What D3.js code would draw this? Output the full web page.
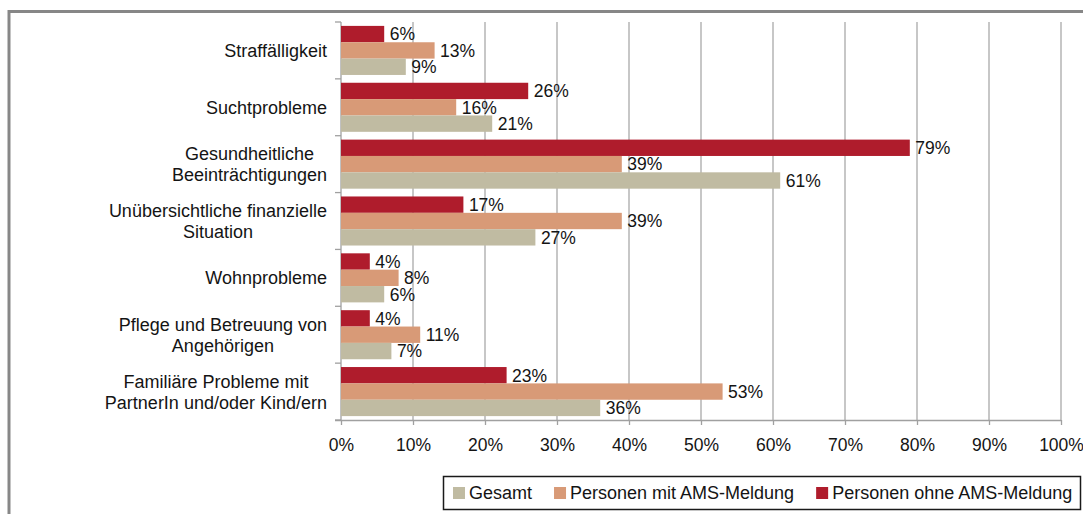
<!DOCTYPE html>
<html>
<head>
<meta charset="utf-8">
<script src="https://cdn.jsdelivr.net/npm/d3@7"></script>
<style>
  html, body { margin: 0; padding: 0; background: #fff; }
  svg { display: block; }
  text { font-family: "Liberation Sans", Arial, sans-serif; fill: #141414; }
</style>
</head>
<body>
<svg id="chart" width="1083" height="514"></svg>
<script>
// ---- data ----
const categories = [
  "Straffälligkeit",
  "Suchtprobleme",
  "Gesundheitliche\nBeeinträchtigungen",
  "Unübersichtliche finanzielle\nSituation",
  "Wohnprobleme",
  "Pflege und Betreuung von\nAngehörigen",
  "Familiäre Probleme mit\nPartnerIn und/oder Kind/ern"
];
const seriesNames = ["Personen ohne AMS-Meldung", "Personen mit AMS-Meldung", "Gesamt"];
const ohneAMS = [6, 26, 79, 17, 4, 4, 23];
const mitAMS  = [13, 16, 39, 39, 8, 11, 53];
const gesamt  = [9, 21, 61, 27, 6, 7, 36];
const seriesColors = ["#AF1C2C", "#D89A77", "#C0BBA2"];
const legendOrder = ["Gesamt", "Personen mit AMS-Meldung", "Personen ohne AMS-Meldung"];
const xTicks = [0, 10, 20, 30, 40, 50, 60, 70, 80, 90, 100];

const seriesValues = [ohneAMS, mitAMS, gesamt];
const FONT = 17.5;
const FONT_TXT = 18;

const svg = d3.select("#chart");

// outer chart border (extends beyond the viewport on right/bottom)
svg.append("rect")
  .attr("x", 9).attr("y", 11.5)
  .attr("width", 1200).attr("height", 600)
  .attr("fill", "none").attr("stroke", "#878787").attr("stroke-width", 3);

const plot = { left: 341, right: 1061, top: 22, bottom: 420 };

const x = d3.scaleLinear().domain([0, 100]).range([plot.left, plot.right]);
const y0 = d3.scaleBand().domain(categories).range([plot.top, plot.bottom]).padding(0);
const y1 = d3.scaleBand().domain(seriesNames).range([3.9, y0.bandwidth() - 3.9]).padding(0);
const color = d3.scaleOrdinal().domain(seriesNames).range(seriesColors);

// gridlines
svg.append("g")
  .selectAll("line")
  .data(xTicks.filter(t => t > 0))
  .join("line")
  .attr("x1", d => x(d)).attr("x2", d => x(d))
  .attr("y1", plot.top).attr("y2", plot.bottom)
  .attr("stroke", "#A9A9A9").attr("stroke-width", 1.3);

// x axis
const xAxis = d3.axisBottom(x).tickValues(xTicks).tickFormat(d => d + "%").tickSize(5).tickPadding(14);
const gx = svg.append("g").attr("transform", `translate(0,${plot.bottom})`).call(xAxis);
gx.select(".domain").attr("stroke", "#A0A0A0").attr("stroke-width", 1.3)
  .attr("d", `M${plot.left - 6},0.5H${plot.right}`);
gx.selectAll(".tick line").attr("stroke", "#A0A0A0").attr("stroke-width", 1.3);
gx.selectAll(".tick text").attr("font-size", FONT).attr("fill", "#141414")
  .style("font-family", '"Liberation Sans", Arial, sans-serif');

// y axis (category) line and ticks at band boundaries
const gy = svg.append("g");
gy.append("line")
  .attr("x1", plot.left).attr("x2", plot.left)
  .attr("y1", plot.top).attr("y2", plot.bottom)
  .attr("stroke", "#A0A0A0").attr("stroke-width", 1.3);
const boundaries = categories.map(c => y0(c)).concat([y0(categories[categories.length - 1]) + y0.bandwidth()]);
gy.selectAll("line.tk")
  .data(boundaries)
  .join("line").attr("class", "tk")
  .attr("x1", plot.left - 6).attr("x2", plot.left)
  .attr("y1", d => d).attr("y2", d => d)
  .attr("stroke", "#A0A0A0").attr("stroke-width", 1.3);

// bars
const rows = categories.map((c, i) => ({
  cat: c,
  vals: seriesNames.map((s, j) => ({ s, v: seriesValues[j][i] }))
}));

const groups = svg.append("g").selectAll("g")
  .data(rows).join("g")
  .attr("transform", d => `translate(0,${y0(d.cat)})`);

groups.selectAll("rect")
  .data(d => d.vals).join("rect")
  .attr("x", x(0))
  .attr("y", d => y1(d.s))
  .attr("width", d => x(d.v) - x(0))
  .attr("height", y1.bandwidth())
  .attr("fill", d => color(d.s));

groups.selectAll("text")
  .data(d => d.vals).join("text")
  .attr("x", d => x(d.v) + 5.5)
  .attr("y", d => y1(d.s) + y1.bandwidth() / 2)
  .attr("dy", "0.36em")
  .attr("font-size", FONT)
  .text(d => d.v + "%");

// category labels
const labelRight = 327;
const lineH = 21;
categories.forEach(c => {
  const lines = c.split("\n");
  const cy = y0(c) + y0.bandwidth() / 2;
  const t = svg.append("text").attr("font-size", FONT_TXT).attr("text-anchor", "middle");
  const spans = lines.map((ln, k) =>
    t.append("tspan")
      .attr("y", cy + (k - (lines.length - 1) / 2) * lineH)
      .attr("dy", "0.36em")
      .text(ln));
  const w = d3.max(spans, s => s.node().getComputedTextLength());
  spans.forEach(s => s.attr("x", labelRight - w / 2));
});

// legend
const lg = svg.append("g");
lg.append("rect")
  .attr("x", 443.5).attr("y", 476.5).attr("width", 637).attr("height", 33)
  .attr("fill", "#fff").attr("stroke", "#1a1a1a").attr("stroke-width", 1.5);
let lx = 453;
legendOrder.forEach(name => {
  lg.append("rect").attr("x", lx).attr("y", 487).attr("width", 12).attr("height", 12)
    .attr("fill", color(name));
  const t = lg.append("text").attr("x", lx + 16).attr("y", 493).attr("dy", "0.36em")
    .attr("font-size", FONT_TXT).text(name);
  lx += 16 + t.node().getComputedTextLength() + 22;
});
</script>
</body>
</html>
